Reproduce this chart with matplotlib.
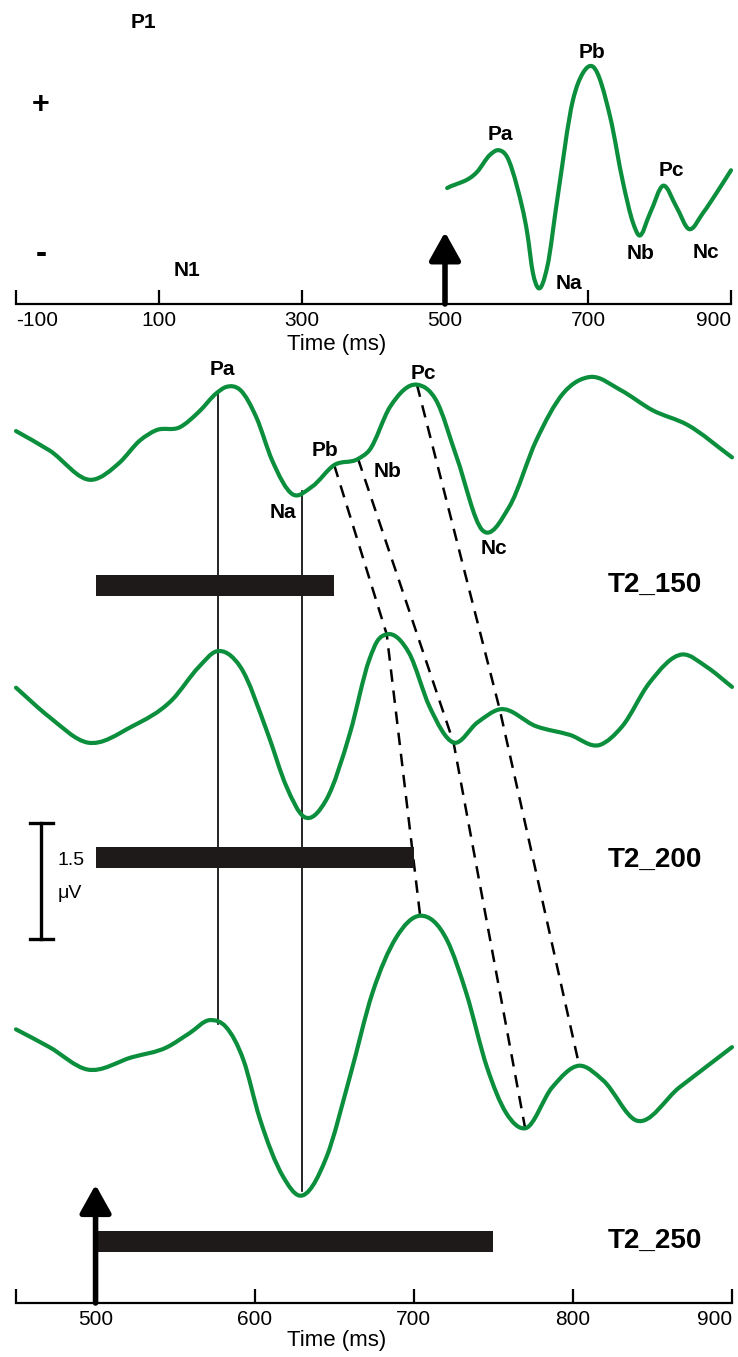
import numpy as np
import matplotlib
matplotlib.use("Agg")
import matplotlib.pyplot as plt
from matplotlib.path import Path
from matplotlib.patches import PathPatch

# ====================================
# DATA
# ====================================

# top panel: grand average, time (ms) / amplitude (uV above axis)
top_time = [503, 545, 563, 574, 587, 601, 615, 623, 630, 643, 657, 679, 693, 707,
            731, 749, 763, 771, 787, 805, 824, 841, 861, 880, 900]
top_amp = [1.50, 1.71, 1.93, 1.99, 1.90, 1.51, 0.92, 0.40, 0.21, 0.48, 1.35, 2.64, 2.99, 3.07,
           2.42, 1.57, 1.05, 0.89, 1.18, 1.53, 1.25, 0.97, 1.18, 1.44, 1.73]

top_ticks = [-100, 100, 300, 500, 700, 900]

# bottom panel: three T2 conditions (uV, relative to each trace start)
t150_time = [450, 471, 498, 515, 528, 538, 553, 565, 576, 582, 591, 601, 611, 624, 636,
             650, 665, 672, 685, 702, 714, 727, 743, 760, 777, 794, 811, 830, 850, 872, 900]
t150_amp = [0.0, -0.25, -0.63, -0.41, -0.12, 0.01, 0.05, 0.25, 0.49, 0.57, 0.53, 0.18, -0.38, -0.82, -0.72,
            -0.44, -0.36, -0.25, 0.31, 0.60, 0.40, -0.34, -1.28, -0.98, -0.12, 0.49, 0.70, 0.53, 0.27, 0.08, -0.34]

t200_time = [450, 471, 495, 523, 548, 565, 576, 591, 608, 620, 631, 645, 660, 672, 677, 683,
             697, 710, 725, 740, 754, 777, 798, 817, 831, 848, 869, 884, 900]
t200_amp = [0.0, -0.38, -0.71, -0.50, -0.16, 0.27, 0.47, 0.27, -0.58, -1.28, -1.67, -1.45, -0.58, 0.36, 0.60, 0.69,
            0.45, -0.25, -0.71, -0.45, -0.28, -0.50, -0.61, -0.74, -0.50, 0.06, 0.43, 0.27, 0.01]

t250_time = [450, 471, 495, 523, 545, 559, 572, 582, 593, 603, 618, 628, 645, 660, 674, 689,
             704, 721, 733, 746, 758, 770, 787, 804, 819, 840, 867, 900]
t250_amp = [0.0, -0.23, -0.52, -0.36, -0.23, -0.05, 0.12, 0.03, -0.40, -1.14, -1.91, -2.15, -1.66, -0.60, 0.47, 1.19,
            1.47, 1.15, 0.47, -0.49, -1.08, -1.28, -0.75, -0.47, -0.66, -1.18, -0.75, -0.23]

conditions = ["T2_150", "T2_200", "T2_250"]
trace_offset = [11.28, 7.96, 3.54]
bar_length = [150, 200, 250]
bar_level = [9.28, 5.76, 0.80]
cond_label_y = [9.29, 5.73, 0.81]

# component latencies (ms) per condition
pa_lat = [577, 577]
na_lat = [630, 630]
pb_lat = [650, 683, 704]
nb_lat = [665, 725, 770]
pc_lat = [702, 754, 804]

bottom_ticks = [450, 500, 600, 700, 800, 900]
bottom_tick_labels = ["", "500", "600", "700", "800", "900"]

GREEN = "#0c8f3d"
FONT = ["Liberation Sans", "DejaVu Sans"]
plt.rcParams["font.family"] = FONT


def smooth_path(x, y):
    # cubic bezier segments through the read points, tangents from
    # the parabola through each point and its neighbours
    x = np.asarray(x, float)
    y = np.asarray(y, float)
    h = np.diff(x)
    d = np.diff(y) / h
    m = np.zeros_like(y)
    m[0] = d[0]
    m[-1] = d[-1]
    for i in range(1, len(x) - 1):
        m[i] = (h[i] * d[i - 1] + h[i - 1] * d[i]) / (h[i - 1] + h[i])
    verts = [(x[0], y[0])]
    codes = [Path.MOVETO]
    for i in range(len(h)):
        verts.append((x[i] + h[i] / 3, y[i] + m[i] * h[i] / 3))
        verts.append((x[i + 1] - h[i] / 3, y[i + 1] - m[i + 1] * h[i] / 3))
        verts.append((x[i + 1], y[i + 1]))
        codes += [Path.CURVE4] * 3
    return Path(verts, codes)


def draw_trace(ax, x, y):
    patch = PathPatch(
        smooth_path(x, y),
        fill=False,
        edgecolor=GREEN,
        lw=3,
        capstyle="round",
        joinstyle="round",
        clip_on=False,
        zorder=3
    )
    ax.add_patch(patch)


def style_axis(ax, ticks, labels):
    for side in ["left", "right", "top"]:
        ax.spines[side].set_visible(False)
    ax.spines["bottom"].set_linewidth(1.6)
    ax.set_xticks(ticks)
    ax.set_xticklabels(labels)
    ax.set_yticks([])
    ax.tick_params(
        axis="x",
        direction="in",
        length=10,
        width=1.6,
        pad=5,
        labelsize=15
    )
    tl = ax.get_xticklabels()
    tl[0].set_horizontalalignment("left")
    tl[-1].set_horizontalalignment("right")
    ax.patch.set_alpha(0)


def stim_arrow(ax, x, top):
    ax.annotate(
        "",
        xy=(x, top),
        xytext=(x, 0),
        arrowprops=dict(
            arrowstyle="-|>,head_length=0.86,head_width=0.48",
            mutation_scale=20,
            lw=4,
            color="black",
            shrinkA=0,
            shrinkB=0
        ),
        zorder=4
    )


fig = plt.figure(figsize=(7.38, 13.57), dpi=100)

# ====================================
# TOP PANEL
# ====================================

ax1 = fig.add_axes([16 / 738, 1053 / 1357, 715 / 738, 304 / 1357])
ax1.set_xlim(-100, 900)
ax1.set_ylim(0, 304 / 77.3)
style_axis(ax1, top_ticks, [str(t) for t in top_ticks])

draw_trace(ax1, top_time, top_amp)
stim_arrow(ax1, 500, 0.93)

top_labels = [
    ("P1", 78, 3.64), ("N1", 139, 0.43),
    ("Pa", 578, 2.19), ("Pb", 706, 3.26), ("Pc", 817, 1.73),
    ("Na", 673, 0.26), ("Nb", 774, 0.65), ("Nc", 865, 0.67)
]
for txt, x, y in top_labels:
    ax1.text(x, y, txt, fontsize=15, fontweight="bold", ha="center", va="center")

ax1.text(-66, 2.57, "+", fontsize=22, fontweight="bold", ha="center", va="center")
ax1.text(-64, 0.64, "-", fontsize=24, fontweight="bold", ha="center", va="center")

ax1.text(349, -0.53, "Time (ms)", fontsize=16, ha="center", va="center", clip_on=False)

# ====================================
# BOTTOM PANEL
# ====================================

ax2 = fig.add_axes([16 / 738, 54 / 1357, 716 / 738, 953 / 1357])
ax2.set_xlim(450, 900)
ax2.set_ylim(0, 953 / 77.3)
style_axis(ax2, bottom_ticks, bottom_tick_labels)

traces = [
    (t150_time, t150_amp),
    (t200_time, t200_amp),
    (t250_time, t250_amp)
]

level = []
for (tx, ty), off in zip(traces, trace_offset):
    yy = np.array(ty) + off
    draw_trace(ax2, tx, yy)
    level.append((tx, yy))

# stimulus bars
ax2.barh(bar_level, bar_length, left=500, height=0.27, color="#1f1a1a", zorder=2)

for name, y in zip(conditions, cond_label_y):
    ax2.text(
        851.6, y, name,
        fontsize=20, fontweight="bold", ha="center", va="center"
    )

# Pa / Na solid lines (first to last trace)
for lat in [pa_lat[0], na_lat[0]]:
    y_top = np.interp(lat, level[0][0], level[0][1])
    y_bot = np.interp(lat, level[2][0], level[2][1])
    ax2.plot([lat, lat], [y_bot, y_top], color="black", lw=1.2, zorder=1)

# dashed latency shifts
for lats in [pb_lat, nb_lat, pc_lat]:
    ys = [np.interp(l, level[k][0], level[k][1]) for k, l in enumerate(lats)]
    ax2.plot(lats, ys, color="black", lw=1.8, ls=(0, (5, 3.5)), zorder=1)

bottom_labels = [
    ("Pa", 580, 12.08), ("Na", 617.5, 10.23), ("Pb", 644.5, 11.03),
    ("Nb", 683.5, 10.76), ("Pc", 706, 12.02), ("Nc", 750.5, 9.76)
]
for txt, x, y in bottom_labels:
    ax2.text(x, y, txt, fontsize=15, fontweight="bold", ha="center", va="center")

# scale bar 1.5 uV
sb_x = 466
sb_low = 4.71
ax2.plot([sb_x, sb_x], [sb_low, sb_low + 1.5], color="black", lw=2.4, clip_on=False)
for yc in [sb_low, sb_low + 1.5]:
    ax2.plot([459, 473], [yc, yc], color="black", lw=2.4)
ax2.text(476, 5.73, "1.5", fontsize=14, ha="left", va="center")
ax2.text(476, 5.30, "μV", fontsize=14, ha="left", va="center")

stim_arrow(ax2, 500, 1.53)

ax2.text(651.6, -0.49, "Time (ms)", fontsize=16, ha="center", va="center", clip_on=False)

plt.savefig("out.png", dpi=100)
plt.close()
